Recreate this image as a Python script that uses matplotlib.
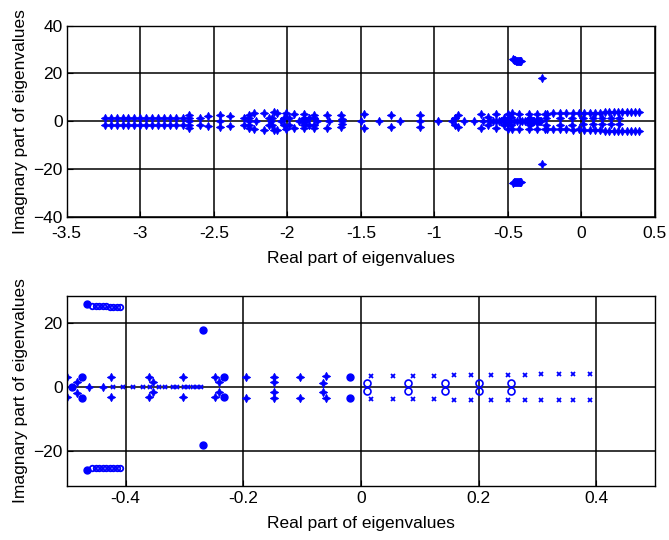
import numpy as np
import matplotlib.pyplot as plt

plt.rcParams['font.family'] = ['Liberation Sans', 'DejaVu Sans']
plt.rcParams['font.size'] = 12.5

# complex-conjugate eigenvalue pairs: real part and |imag| (drawn at +imag and -imag)
pair_re = [-3.24, -3.20, -3.16, -3.12, -3.08, -3.04, -3.00, -2.96, -2.92, -2.88, -2.84, -2.80, -2.76,
           -2.71, -2.671, -2.671, -2.596, -2.539, -2.460, -2.392, -2.296, -2.262, -2.262,
           -2.228, -2.160, -2.126, -2.103, -2.092, -2.069, -2.023, -2.012, -1.989, -1.955,
           -1.887, -1.887, -1.853, -1.819, -1.819, -1.728, -1.637, -1.625, -1.478, -1.296,
           -1.098, -0.860, -0.837, -0.683, -0.637, -0.580, -0.53,
           -0.500, -0.482, -0.425, -0.3594, -0.3526, -0.3015, -0.2476, -0.2413, -0.1953,
           -0.1472, -0.1472, -0.1029, -0.0592, -0.065]
pair_im = [1.5, 1.5, 1.5, 1.5, 1.5, 1.5, 1.5, 1.5, 1.5, 1.5, 1.5, 1.5, 1.5,
           1.5, 1.5, 2.8, 1.5, 2.0, 2.5, 2.2, 1.5, 1.5, 2.8,
           3.3, 3.5, 1.5, 1.5, 3.8, 3.5, 1.5, 3.3, 1.5, 3.0,
           3.0, 1.5, 1.5, 2.8, 1.5, 2.8, 2.5, 1.0, 3.0, 2.5,
           2.5, 1.5, 2.6, 2.9, 1.7, 2.9, 1.5,
           3.2, 1.7, 3.2, 3.2, 1.5, 3.2, 3.2, 1.5, 3.3,
           3.3, 1.5, 3.3, 3.5, 1.4]

# pairs drawn as filled dots in the zoomed plot
dot_re = [-0.466, -0.2685, -0.4745, -0.2323, -0.0182]
dot_im = [26.0, 18.0, 3.3, 3.2, 3.3]

# dense group of lightly damped modes near +/-25
clus_re = [-0.457, -0.451, -0.445, -0.439, -0.433, -0.427, -0.421, -0.415, -0.410]
clus_im = [25.5, 25.5, 25.4, 25.4, 25.4, 25.3, 25.3, 25.3, 25.3]

# real eigenvalues
axis_re = [-2.671, -2.46, -2.262, -2.216, -2.114, -2.046, -1.921, -1.898, -1.876, -1.796,
           -1.717, -1.625, -1.50, -1.376, -1.235, -1.098, -0.978, -0.880, -0.796, -0.732,
           -0.671, -0.62, -0.60, -0.58, -0.56, -0.545, -0.53, -0.515, -0.4615, -0.439]
axis_dot_re = [-0.4915]
axis_small_re = [-0.4207, -0.4036, -0.3866, -0.3706, -0.3582, -0.3424, -0.3322, -0.3196,
                 -0.3118, -0.3003, -0.293, -0.2855, -0.2787, -0.272]

# right half-plane eigenvalues
rhp_x_re = [0.018, 0.055, 0.089, 0.124, 0.159, 0.188, 0.221, 0.250, 0.279, 0.307, 0.336, 0.361, 0.389]
rhp_x_im = [3.6, 3.6, 3.6, 3.6, 3.9, 3.9, 3.9, 3.9, 3.9, 4.0, 4.0, 4.0, 4.0]
rhp_o_re = [0.011, 0.080, 0.143, 0.200, 0.256]
rhp_o_im = [1.25, 1.25, 1.25, 1.25, 1.25]

blue = '#0000ff'
star = (4, 1, 0)


def both(re, im):
    re = np.asarray(re, float)
    im = np.asarray(im, float)
    return np.concatenate([re, re]), np.concatenate([im, -im])


def style(ax, xlim, ylim, xticks, yticks, xpad, labpad):
    ax.set_xlim(xlim)
    ax.set_ylim(ylim)
    ax.set_xticks(xticks)
    ax.set_yticks(yticks)
    ax.grid(True, color='black', linewidth=1.1)
    ax.set_axisbelow(True)
    ax.tick_params(direction='in', length=4, width=0.8, pad=3)
    ax.tick_params(axis='x', pad=xpad)
    for s in ax.spines.values():
        s.set_linewidth(1.0)
    ax.set_xlabel('Real part of eigenvalues', labelpad=labpad)
    ax.set_ylabel('Imagnary part of eigenvalues', labelpad=4)


fig = plt.figure(figsize=(6.69, 5.4), dpi=100)
ax1 = fig.add_axes([66.7 / 669, 1 - 216.7 / 540, 588.3 / 669, 191 / 540])
ax2 = fig.add_axes([66.7 / 669, 1 - 485.7 / 540, 588.3 / 669, 190 / 540])

# top: all eigenvalues
kw = dict(linestyle='none', marker=star, markersize=6, color=blue, markeredgewidth=0.6)
for re, im in [(pair_re, pair_im), (dot_re, dot_im), (clus_re, clus_im),
               (rhp_x_re, rhp_x_im), (rhp_o_re, rhp_o_im)]:
    ax1.plot(*both(re, im), **kw)
ax1.plot(axis_re + axis_dot_re + axis_small_re, np.zeros(len(axis_re) + 1 + len(axis_small_re)), **kw)
style(ax1, (-3.5, 0.5), (-40, 40), np.arange(-3.5, 0.51, 0.5), [-40, -20, 0, 20, 40], 7, 7)
ax1.set_xticklabels(['-3.5', '-3', '-2.5', '-2', '-1.5', '-1', '-0.5', '0', '0.5'])

# bottom: zoom around the imaginary axis
ax2.plot(*both(pair_re, pair_im), **kw)
ax2.plot(axis_re, np.zeros(len(axis_re)), **kw)
ax2.plot(*both(dot_re, dot_im), linestyle='none', marker='o', markersize=5, color=blue)
ax2.plot(axis_dot_re, [0], linestyle='none', marker='o', markersize=5, color=blue)
ax2.plot(*both(clus_re, clus_im), linestyle='none', marker='o', markersize=4,
         markerfacecolor='none', markeredgecolor=blue, markeredgewidth=1.3)
ax2.plot(axis_small_re, np.zeros(len(axis_small_re)), linestyle='none', marker='x',
         markersize=3, color=blue, markeredgewidth=1.3)
ax2.plot(*both(rhp_x_re, rhp_x_im), linestyle='none', marker='x', markersize=3,
         color=blue, markeredgewidth=1.3)
ax2.plot(*both(rhp_o_re, rhp_o_im), linestyle='none', marker='o', markersize=5,
         markerfacecolor='none', markeredgecolor=blue, markeredgewidth=1.2)
style(ax2, (-0.5, 0.5), (-30.9, 28.7), [-0.4, -0.2, 0, 0.2, 0.4], [-20, 0, 20], 4, 7)
ax2.set_xticklabels(['-0.4', '-0.2', '0', '0.2', '0.4'])

fig.savefig('out.png', dpi=100)
